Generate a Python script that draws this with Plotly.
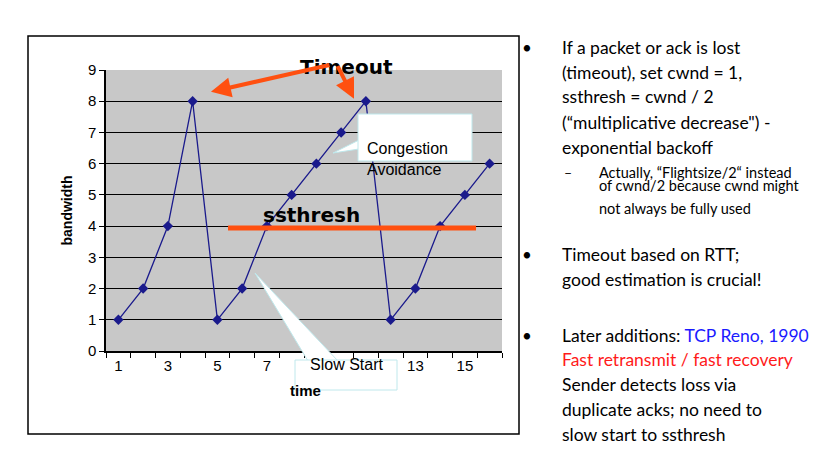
import plotly.graph_objects as go

# data
time = list(range(1, 17))
bandwidth = [1, 2, 4, 8, 1, 2, 4, 5, 6, 7, 8, 1, 2, 4, 5, 6]
x_tick_vals = list(range(1, 17))
x_tick_text = [str(v) if v % 2 == 1 else "" for v in x_tick_vals]
ssthresh_x = [5.43, 15.45]
ssthresh_y = [3.94, 3.94]

W, H = 840, 459
L, R, T, B = 98, 494, 62, 343


def px(x):
    return (x - L) / (R - L)


def py(y):
    return (B - y) / (B - T)


ORANGE = "#FF5010"
NAVY = "#1a1a8c"
EDGE = "#bfe8ec"

fig = go.Figure()
fig.add_trace(go.Scatter(x=time, y=bandwidth, mode="lines+markers",
                         line=dict(color=NAVY, width=1.3),
                         marker=dict(symbol="diamond", size=8, color=NAVY)))
fig.add_trace(go.Scatter(x=ssthresh_x, y=ssthresh_y, mode="lines",
                         line=dict(color=ORANGE, width=5)))

shapes = [
    # outer frame
    dict(type="rect", xref="paper", yref="paper", x0=px(20), x1=px(511), y0=py(426), y1=py(28),
         line=dict(color="black", width=1.5), layer="below"),
    # slow start pointer + box
    dict(type="path", xref="paper", yref="paper",
         path=f"M {px(300)} {py(353)} L {px(247)} {py(265)} L {px(330)} {py(353)} Z",
         fillcolor="white", line=dict(color=EDGE, width=1)),
    dict(type="rect", xref="paper", yref="paper", x0=px(287), x1=px(389), y0=py(382), y1=py(352),
         fillcolor="white", line=dict(color=EDGE, width=1)),
    # congestion avoidance pointer + box
    dict(type="path", xref="paper", yref="paper",
         path=f"M {px(351)} {py(132)} L {px(325)} {py(145)} L {px(351)} {py(141)} Z",
         fillcolor="white", line=dict(color=EDGE, width=1)),
    dict(type="rect", xref="paper", yref="paper", x0=px(350), x1=px(464), y0=py(153), y1=py(106),
         fillcolor="white", line=dict(color=EDGE, width=1)),
]

ann = [
    dict(x=px(338), y=py(45), text="<b>Timeout</b>", font=dict(size=20, family="DejaVu Sans", color="black")),
    dict(x=px(303), y=py(207), text="<b>ssthresh</b>", font=dict(size=20, family="DejaVu Sans", color="black")),
    dict(x=px(338), y=py(367), text="Slow Start", font=dict(size=16, family="Liberation Sans", color="black")),
    dict(x=px(357), y=py(130), text="Congestion<br>Avoidance", xanchor="left", align="left",
         font=dict(size=16, family="Liberation Sans", color="black")),
    dict(x=px(297), y=py(393), text="<b>time</b>", font=dict(size=15, family="Liberation Sans", color="black")),
]
for a in ann:
    a.update(xref="paper", yref="paper", showarrow=False)

# timeout arrows
for (x0, y0, x1, y1) in [(9.59, 9.17, 4.74, 8.30), (9.83, 9.17, 10.52, 8.08)]:
    ann.append(dict(x=x1, y=y1, ax=x0, ay=y0, xref="x", yref="y", axref="x", ayref="y",
                    showarrow=True, arrowhead=2, arrowsize=1, arrowwidth=4, arrowcolor=ORANGE, text=""))

# right-hand text
TF = "Lato"
lines = [
    (552, 27, 17.5, "If a packet or ack is lost"),
    (552, 52, 17.5, "(timeout), set cwnd = 1,"),
    (552, 76, 17.5, "ssthresh = cwnd / 2"),
    (552, 102, 17.5, "(“multiplicative decrease\") -"),
    (552, 127, 17.5, "exponential backoff"),
    (589, 154, 14.5, "Actually, “Flightsize/2“ instead"),
    (589, 177, 14.5, "of cwnd/2 because cwnd might"),
    (589, 200, 14.5, "not always be fully used"),
    (552, 259, 17.5, "Timeout based on RTT;"),
    (552, 284, 17.5, "good estimation is crucial!"),
    (552, 340, 17.5, "Later additions: <span style='color:#1a1aff'>TCP Reno, 1990</span>"),
    (552, 364, 17.5, "<span style='color:#ff1a1a'>Fast retransmit / fast recovery</span>"),
    (552, 389, 17.5, "Sender detects loss via"),
    (552, 414, 17.5, "duplicate acks; no need to"),
    (552, 439, 17.5, "slow start to ssthresh"),
]
for x, y, s, t in lines:
    ann.append(dict(x=px(x), y=py(y), xref="paper", yref="paper", xanchor="left", showarrow=False,
                    text=t, font=dict(size=s, family=TF, color="black")))
for x, y, s, t in [(526, 27, 17, "•"), (526, 259, 17, "•"), (526, 340, 17, "•"), (566, 154, 14, "–")]:
    ann.append(dict(x=px(x), y=py(y), xref="paper", yref="paper", showarrow=False,
                    text=t, font=dict(size=s, family=TF, color="black")))

fig.update_layout(
    width=W, height=H, margin=dict(l=L, r=W - R, t=T, b=H - B, autoexpand=False),
    plot_bgcolor="#c8c8c8", paper_bgcolor="white", showlegend=False,
    shapes=shapes, annotations=ann,
    font=dict(family="Liberation Sans", size=15, color="black"),
)
fig.update_xaxes(range=[0.5, 16.5], tickvals=x_tick_vals, ticktext=x_tick_text, ticks="",
                 showgrid=False, zeroline=False, showline=True, linecolor="black", linewidth=1.5,
                 minor=dict(tick0=0.5, dtick=1, ticks="outside", ticklen=5, tickcolor="black", showgrid=False),
                 tickfont=dict(size=15), automargin=False)
fig.update_yaxes(range=[0, 9], dtick=1, ticks="outside", ticklen=5, tickcolor="black",
                 showgrid=True, gridcolor="black", gridwidth=1.2, zeroline=False,
                 showline=True, linecolor="black", linewidth=1.5,
                 title=dict(text="<b>bandwidth</b>", font=dict(size=14), standoff=12),
                 tickfont=dict(size=15), automargin=False)

fig.write_html("out.html")
